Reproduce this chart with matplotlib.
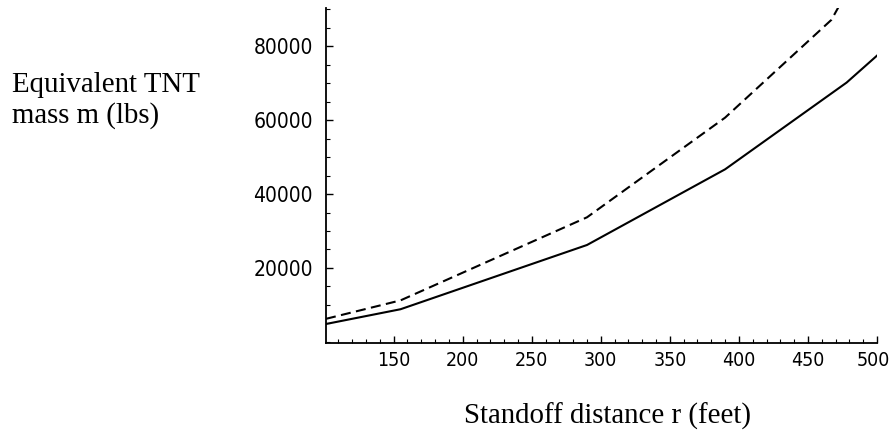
import matplotlib
matplotlib.use("Agg")
import matplotlib.pyplot as plt
import matplotlib.transforms as mtransforms
from matplotlib.ticker import MultipleLocator

# Data
r_solid = [101, 155, 290, 390, 478, 500]
m_solid = [4800, 8800, 26200, 46700, 70200, 77500]
r_dashed = [101, 155, 290, 390, 467, 500]
m_dashed = [6200, 11200, 33700, 60700, 87200, 109500]
x_ticks = [150, 200, 250, 300, 350, 400, 450, 500]
y_ticks = [20000, 40000, 60000, 80000]

fig = plt.figure(figsize=(8.93, 4.36), dpi=100)
ax = fig.add_axes([326/893, 1-343/436, (877-326)/893, (343-8)/436])

ax.plot(r_solid, m_solid, color="black", lw=1.5, solid_joinstyle="miter")
ax.plot(r_dashed, m_dashed, color="black", lw=1.5, linestyle=(0, (4.8, 2.6)))

ax.set_xlim(101, 500)
ax.set_ylim(-350, 90400)

ax.spines["top"].set_visible(False)
ax.spines["right"].set_visible(False)
ax.spines["left"].set_linewidth(1.3)
ax.spines["bottom"].set_linewidth(1.3)

ax.set_xticks(x_ticks)
ax.set_xticklabels([str(v) for v in x_ticks])
ax.set_yticks(y_ticks)
ax.set_yticklabels([str(v) for v in y_ticks])
ax.xaxis.set_minor_locator(MultipleLocator(10))
ax.yaxis.set_minor_locator(MultipleLocator(5000))
ax.tick_params(which="major", direction="in", length=5, width=1, labelsize=15, pad=9.5)
ax.tick_params(axis="x", which="major", pad=6, labelsize=14)
ax.tick_params(which="minor", direction="in", length=3, width=0.8)
for lab in ax.get_xticklabels() + ax.get_yticklabels():
    lab.set_family("DejaVu Sans")
    lab.set_fontstretch("condensed")

# nudge the last x tick label slightly left so it stays inside the canvas
last = ax.get_xticklabels()[-1]
last.set_transform(last.get_transform() + mtransforms.ScaledTranslation(-4/100, 0, fig.dpi_scale_trans))

serif = ["Liberation Serif", "DejaVu Serif"]
fig.text(12/893, 1-92/436, "Equivalent TNT", family=serif, fontsize=20.8, ha="left", va="baseline")
fig.text(12/893, 1-123/436, "mass m (lbs)", family=serif, fontsize=20.8, ha="left", va="baseline")
fig.text(608/893, 1-424/436, "Standoff distance r (feet)", family=serif, fontsize=20.8, ha="center", va="baseline")

fig.savefig("out.png", dpi=100)
